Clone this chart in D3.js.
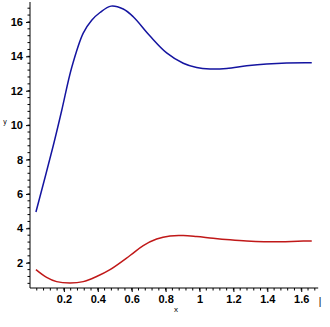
<!DOCTYPE html>
<html><head><meta charset="utf-8">
<script src="https://cdn.jsdelivr.net/npm/d3@7"></script>
<style>body{margin:0;background:#fff;}svg{display:block;}</style>
</head><body>
<svg id="c" width="330" height="327"></svg>
<script>
const blueX = [0.035,0.137,0.187,0.246,0.314,0.364,0.413,0.478,0.55,0.609,0.708,0.806,0.904,0.983,1.062,1.16,1.278,1.396,1.514,1.662];
const blueY = [4.95,8.8,10.85,13.35,15.35,16.1,16.55,16.92,16.75,16.3,15.18,14.2,13.6,13.35,13.27,13.3,13.45,13.56,13.62,13.63];
const redX = [0.035,0.098,0.157,0.236,0.314,0.393,0.472,0.59,0.668,0.747,0.826,0.904,0.983,1.08,1.18,1.278,1.38,1.48,1.58,1.662];
const redY = [1.6,1.15,0.9,0.82,0.9,1.2,1.6,2.42,3.0,3.38,3.56,3.58,3.52,3.42,3.33,3.26,3.22,3.22,3.25,3.27];
const xTicks = [0.2,0.4,0.6,0.8,1,1.2,1.4,1.6];
const yTicks = [2,4,6,8,10,12,14,16];
const xLabel = "x", yLabel = "y";

const svg = d3.select("#c");
const x = d3.scaleLinear().domain([0,1.7]).range([30,318.2]);
const y = d3.scaleLinear().domain([0.53,17.16]).range([288,2]);

const font = "'Liberation Sans', Arial, sans-serif";

// x axis
const xMinor = d3.range(0.04,1.7,0.04);
const xAxis = d3.axisBottom(x).tickValues(xTicks).tickSize(4).tickPadding(3)
  .tickFormat(d=>d3.format("~g")(d));
const gx = svg.append("g").attr("transform",`translate(0,${y(0.53)})`).call(xAxis);
gx.select(".domain").attr("d",`M${x(0)},0H${x(1.7)}`).attr("stroke","#000");
gx.selectAll("text").attr("font-family",font).attr("font-weight","bold").attr("font-size",11).attr("fill","#000");
gx.selectAll(".minor").data(xMinor).enter().append("line").attr("class","minor")
  .attr("x1",d=>x(d)).attr("x2",d=>x(d)).attr("y1",0).attr("y2",2.5).attr("stroke","#000");

// y axis
const yMinor = d3.range(0.8,17.1,0.4);
const yAxis = d3.axisLeft(y).tickValues(yTicks).tickSize(4).tickPadding(3);
const gy = svg.append("g").attr("transform",`translate(${x(0)},0)`).call(yAxis);
gy.select(".domain").attr("d",`M0,${y(0.53)}V${y(17.16)}`).attr("stroke","#000");
gy.selectAll("text").attr("font-family",font).attr("font-weight","bold").attr("font-size",11).attr("fill","#000");
gy.selectAll(".minor").data(yMinor).enter().append("line").attr("class","minor")
  .attr("y1",d=>y(d)).attr("y2",d=>y(d)).attr("x1",0).attr("x2",-2.5).attr("stroke","#000");

svg.append("text").attr("x",176).attr("y",312).attr("text-anchor","middle")
  .attr("font-family",font).attr("font-size",8).text(xLabel);
svg.append("text").attr("x",5).attr("y",124).attr("text-anchor","middle")
  .attr("font-family",font).attr("font-size",7).text(yLabel);
svg.append("text").attr("x",320).attr("y",305).attr("text-anchor","middle")
  .attr("font-family",font).attr("font-size",10).text("|");

const line = d3.line().x(d=>x(d[0])).y(d=>y(d[1])).curve(d3.curveCatmullRom.alpha(0.5));
svg.append("path").datum(d3.zip(blueX,blueY)).attr("d",line)
  .attr("fill","none").attr("stroke","#1414a0").attr("stroke-width",1.5);
svg.append("path").datum(d3.zip(redX,redY)).attr("d",line)
  .attr("fill","none").attr("stroke","#c01818").attr("stroke-width",1.5);
</script>
</body></html>
